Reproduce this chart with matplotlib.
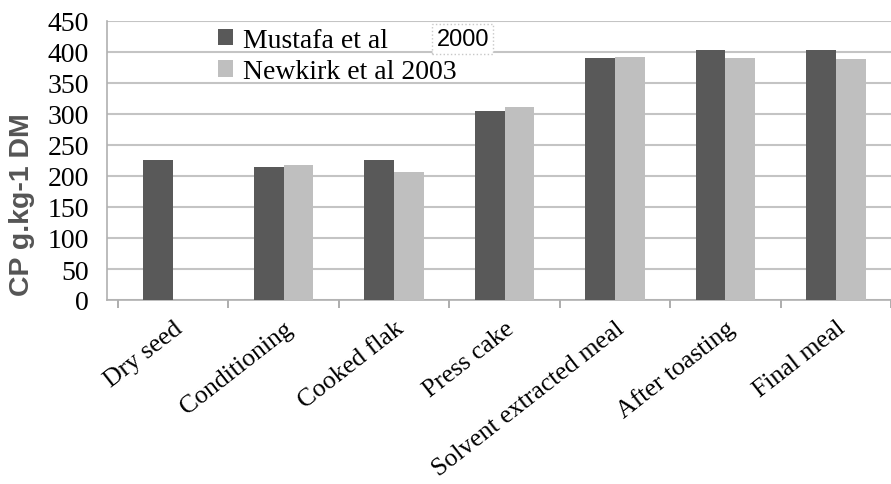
import numpy as np
import matplotlib.pyplot as plt

# data
categories = ["Dry seed", "Conditioning", "Cooked flak", "Press cake",
              "Solvent extracted meal", "After toasting", "Final meal"]
mustafa = [226, 214, 226, 305, 390, 404, 403]
newkirk = [np.nan, 218, 207, 311, 392, 390, 389]
yticks = [0, 50, 100, 150, 200, 250, 300, 350, 400, 450]

plt.rcParams['font.family'] = ['Liberation Serif', 'DejaVu Serif']

fig = plt.figure(figsize=(8.91, 4.85), dpi=100)
ax = fig.add_axes([107 / 891, 1 - 301 / 485, 1 - 107 / 891, 279 / 485])

x = np.arange(len(categories))
w = 0.27
ax.bar(x - w / 2, mustafa, w, color='#595959', label='Mustafa et al', zorder=3)
ax.bar(x + w / 2, newkirk, w, color='#bfbfbf', label='Newkirk et al 2003', zorder=3)

ax.set_xlim(-0.6, 6.43)
ax.set_ylim(0, 450)
ax.set_yticks(yticks)
ax.tick_params(axis='y', length=0, labelsize=20, pad=13)
ax.set_xticks(x)
ax.set_xticklabels(categories, rotation=38, ha='right', rotation_mode='anchor', fontsize=18.5)
ax.tick_params(axis='x', length=0, pad=12)
ax.set_xticks(np.arange(len(categories) + 1) - 0.5, minor=True)
ax.tick_params(axis='x', which='minor', length=6, color='#a0a0a0', width=1.2)
ax.grid(axis='y', color='#c4c4c4', linewidth=1.5, zorder=0)

for s in ['top', 'right']:
    ax.spines[s].set_visible(False)
for s in ['left', 'bottom']:
    ax.spines[s].set_color('#b0b0b0')
    ax.spines[s].set_linewidth(1.2)

ax.set_ylabel('CP g.kg-1 DM', family=['Liberation Sans', 'DejaVu Sans'], fontweight='bold',
              fontsize=20.5, color='#555555', va='center')
ax.yaxis.set_label_coords(-0.108, 0.344)

leg = ax.legend(loc='upper left', bbox_to_anchor=(0.117, 1.045), fontsize=20, frameon=False,
                handlelength=0.55, handleheight=0.55, handletextpad=0.35, labelspacing=0.22,
                borderpad=0.2)

fig.text(463 / 891, 1 - 40 / 485, '2000', family=['Liberation Sans', 'DejaVu Sans'],
         fontsize=17, ha='center', va='center',
         bbox=dict(facecolor='white', edgecolor='#c8c8c8', linestyle=':', pad=3))

fig.savefig('out.png', dpi=100)
